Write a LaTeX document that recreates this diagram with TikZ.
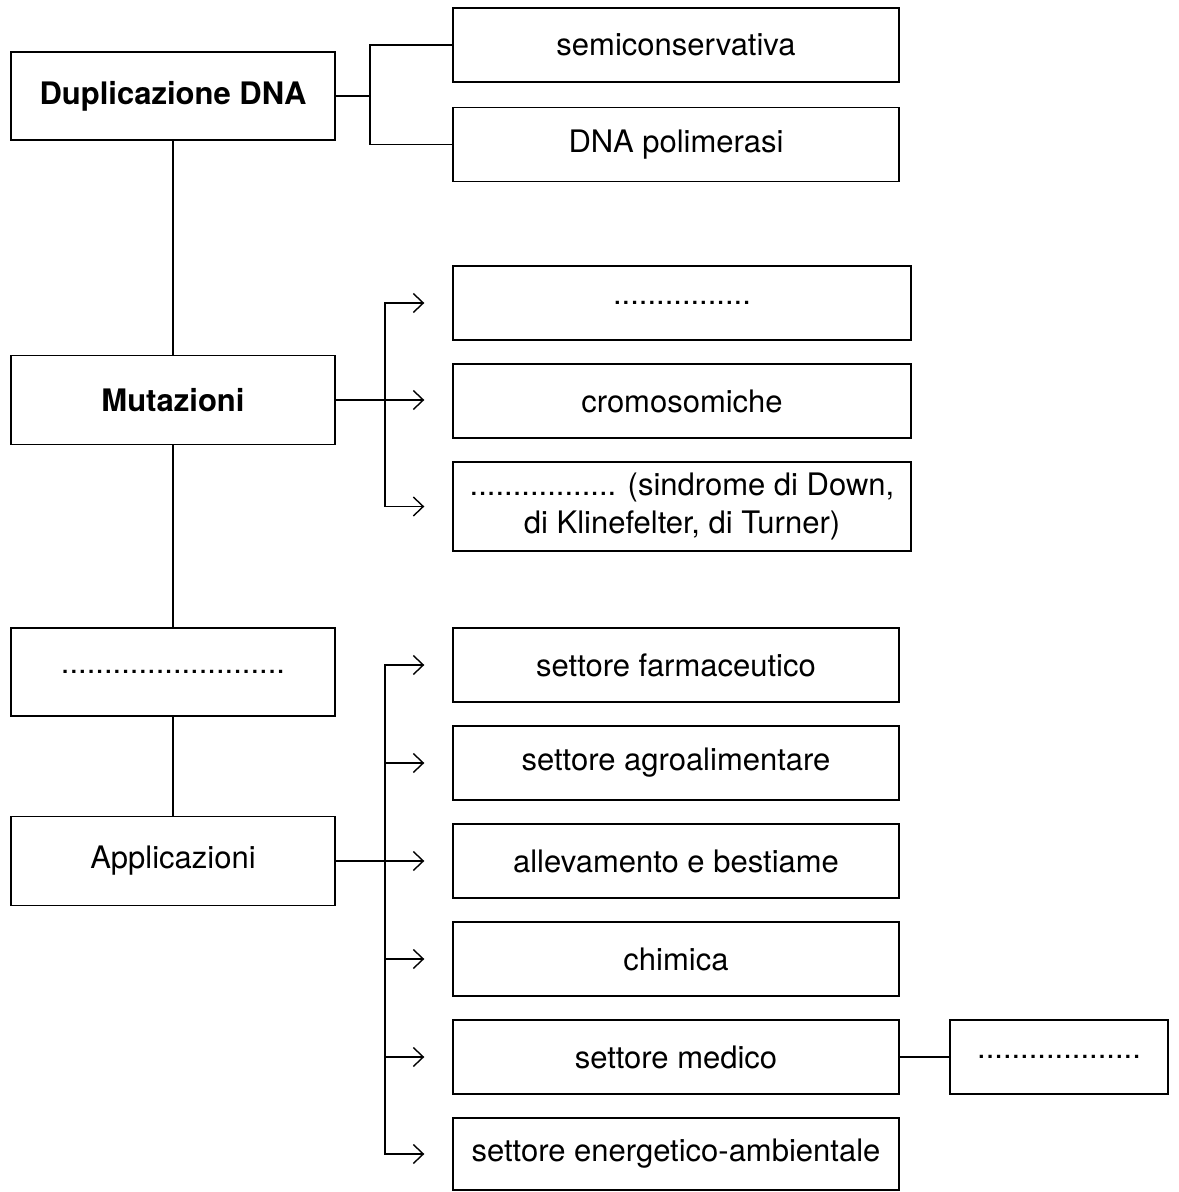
\documentclass[tikz,border=0pt]{standalone}
\usepackage{fontspec}
\setmainfont{TeX Gyre Heros}
\usetikzlibrary{arrows.meta}
\begin{document}
\begin{tikzpicture}[x=0.5pt,y=-0.5pt,line width=0.7pt,
    box/.style={draw,minimum width=162pt,minimum height=44pt,inner sep=2pt,align=center,font=\fontsize{15.5}{19}\selectfont},
    leftbox/.style={box,minimum width=162pt},
    rightbox/.style={box,minimum width=223pt,minimum height=37pt},
    widebox/.style={box,minimum width=229pt,minimum height=37pt},
    tip/.style={-{Straight Barb[length=5pt,width=9.5pt,line width=0.7pt]},shorten >=14pt}]
    \useasboundingbox (0,0) rectangle (1178,1192);
    % left column
    \node [leftbox] (dup) at (173,96) {\bfseries Duplicazione DNA};
    \node [leftbox,minimum height=44.5pt] (mut) at (173,400) {\bfseries Mutazioni};
    \node [leftbox] (gap) at (173,672) {..........................};
    \node [leftbox,minimum height=44.5pt] (appl) at (173,861) {Applicazioni};
    \draw (dup.south) -- (mut.north);
    \draw (mut.south) -- (gap.north);
    \draw (gap.south) -- (appl.north);
    % duplicazione
    \node [rightbox] (semi) at (676,45) {semiconservativa};
    \node [rightbox] (poli) at (676,144.5) {DNA polimerasi};
    \coordinate (jd) at (370,96);
    \draw (dup.east) -- (jd);
    \draw (semi.west) -| (jd) |- (poli.west);
    % mutazioni
    \node [widebox] (gene) at (682,303) {................};
    \node [widebox] (crom) at (682,401) {cromosomiche};
    \node [widebox,minimum height=44.5pt] (sind) at (682,506.5) {................. (sindrome di Down,\\di Klinefelter, di Turner)};
    \coordinate (jm) at (385,400);
    \draw (mut.east) -- (jm);
    \draw [tip] (jm) |- (gene.west);
    \draw [tip] (jm) -- (jm -| crom.west);
    \draw [tip] (jm) |- (sind.west);
    % applicazioni
    \node [rightbox] (farm) at (676,665) {settore farmaceutico};
    \node [rightbox] (agro) at (676,763) {settore agroalimentare};
    \node [rightbox] (alle) at (676,861) {allevamento e bestiame};
    \node [rightbox] (chim) at (676,959) {chimica};
    \node [rightbox] (med) at (676,1057) {settore medico};
    \node [rightbox,minimum height=36pt] (ener) at (676,1154) {settore energetico-ambientale};
    \node [box,minimum width=109pt,minimum height=37pt] (medx) at (1059,1057) {...................};
    \coordinate (ja) at (385,861);
    \draw (appl.east) -- (ja);
    \foreach \b in {farm,agro,alle,chim,med,ener}
        \draw [tip] (ja) |- (\b.west);
    \draw (med.east) -- (medx.west);
\end{tikzpicture}
\end{document}
